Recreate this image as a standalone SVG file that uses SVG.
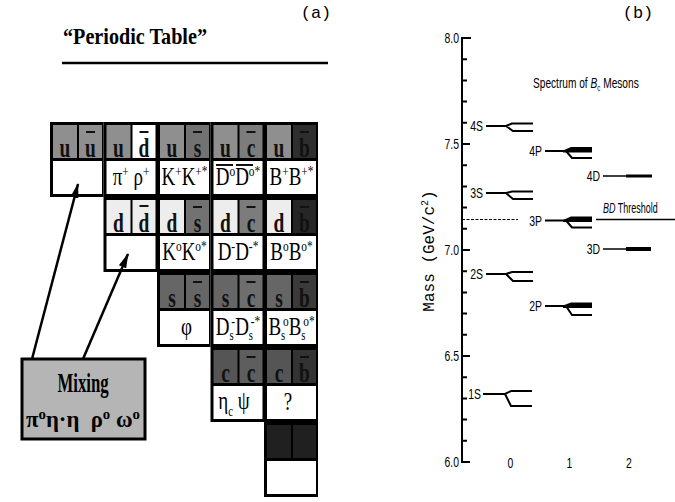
<svg xmlns="http://www.w3.org/2000/svg" width="675" height="502" viewBox="0 0 675 502">
<style>
.bg{fill:#000}
.w{fill:#fff}
.q{font-family:"Liberation Serif",serif;font-size:27px;font-weight:bold;text-anchor:middle;fill:#111}
.m{font-family:"Liberation Serif",serif;font-size:25px;text-anchor:middle;fill:#000}
.sp{font-size:15px}
.sb{font-size:14px}
.bar{stroke:#111;stroke-width:2}
.sans{font-family:"Liberation Sans",sans-serif;font-size:14.5px;fill:#000}
.mono{font-family:"Liberation Mono",monospace;fill:#000}
.lv{fill:none;stroke:#000;stroke-width:2}
.arr{stroke:#000;stroke-width:2.5;fill:none;marker-end:url(#ah)}
</style>
<defs>
<marker id="ah" markerUnits="userSpaceOnUse" markerWidth="15" markerHeight="8" refX="14" refY="4" orient="auto">
<path d="M0,0 L15,4 L0,8 z" fill="#000"/>
</marker>
</defs>
<rect width="675" height="502" fill="#fff"/>

<!-- Panel (a) -->
<text class="mono" font-size="17" x="316" y="18" text-anchor="middle">(a)</text>
<text x="63" y="44" font-family="Liberation Serif,serif" font-weight="bold" font-size="23" textLength="144" lengthAdjust="spacingAndGlyphs">“Periodic Table”</text>
<line x1="62" y1="63" x2="328" y2="63" stroke="#000" stroke-width="2.5"/>

<!-- Row u -->
<g id="uu">
<rect class="bg" x="50" y="122" width="53.5" height="75"/>
<rect x="53" y="125" width="24" height="33" fill="#8f8f8f"/>
<rect x="79" y="125" width="23" height="33" fill="#8f8f8f"/>
<rect class="w" x="53" y="161" width="49" height="33"/>
<text class="q" transform="translate(65,157) scale(0.72,1)">u</text>
<text class="q" transform="translate(90.5,157) scale(0.72,1)">u</text>
<line class="bar" x1="86" y1="132" x2="95" y2="132"/>
</g>
<g id="ud">
<rect class="bg" x="103.5" y="122" width="53.5" height="75"/>
<rect x="106.5" y="125" width="24" height="33" fill="#8f8f8f"/>
<rect x="132.5" y="125" width="23" height="33" fill="#fff"/>
<rect class="w" x="106.5" y="161" width="49" height="33"/>
<text class="q" transform="translate(118.5,157) scale(0.72,1)">u</text>
<text class="q" transform="translate(144,157) scale(0.72,1)">d</text>
<line class="bar" x1="139.5" y1="132" x2="148.5" y2="132"/>
<text class="m" transform="translate(131,185) scale(0.76,1)">π<tspan class="sp" dy="-9">+</tspan><tspan dy="9"> ρ</tspan><tspan class="sp" dy="-9">+</tspan></text>
</g>
<g id="us">
<rect class="bg" x="157" y="122" width="53.5" height="75"/>
<rect x="160" y="125" width="24" height="33" fill="#8f8f8f"/>
<rect x="186" y="125" width="23" height="33" fill="#727272"/>
<rect class="w" x="160" y="161" width="49" height="33"/>
<text class="q" transform="translate(172,157) scale(0.72,1)">u</text>
<text class="q" transform="translate(197.5,157) scale(0.72,1)">s</text>
<line class="bar" x1="193" y1="132" x2="202" y2="132"/>
<text class="m" transform="translate(184.5,185) scale(0.76,1)">K<tspan class="sp" dy="-9">+</tspan><tspan dy="9">K</tspan><tspan class="sp" dy="-9">+*</tspan></text>
</g>
<g id="uc">
<rect class="bg" x="210.5" y="122" width="53.5" height="75"/>
<rect x="213.5" y="125" width="24" height="33" fill="#8f8f8f"/>
<rect x="239.5" y="125" width="23" height="33" fill="#7c7c7c"/>
<rect class="w" x="213.5" y="161" width="49" height="33"/>
<text class="q" transform="translate(225.5,157) scale(0.72,1)">u</text>
<text class="q" transform="translate(251,157) scale(0.72,1)">c</text>
<line class="bar" x1="246.5" y1="132" x2="255.5" y2="132"/>
<text class="m" transform="translate(238,185) scale(0.76,1)">D<tspan class="sp" dy="-9">o</tspan><tspan dy="9">D</tspan><tspan class="sp" dy="-9">o*</tspan></text>
<line class="bar" x1="216" y1="165" x2="233" y2="165"/>
<line class="bar" x1="236" y1="165" x2="253" y2="165"/>
</g>
<g id="ub">
<rect class="bg" x="264" y="122" width="54" height="75"/>
<rect x="267" y="125" width="24" height="33" fill="#8f8f8f"/>
<rect x="293" y="125" width="23" height="33" fill="#2e2e2e"/>
<rect class="w" x="267" y="161" width="49" height="33"/>
<text class="q" transform="translate(279,157) scale(0.72,1)">u</text>
<text class="q" transform="translate(304.5,157) scale(0.72,1)">b</text>
<line class="bar" x1="300" y1="132" x2="309" y2="132"/>
<text class="m" transform="translate(291.5,185) scale(0.76,1)">B<tspan class="sp" dy="-9">+</tspan><tspan dy="9">B</tspan><tspan class="sp" dy="-9">+*</tspan></text>
</g>

<!-- Row d -->
<g id="dd">
<rect class="bg" x="103.5" y="197" width="53.5" height="75"/>
<rect x="106.5" y="200" width="24" height="33" fill="#ededed"/>
<rect x="132.5" y="200" width="23" height="33" fill="#ededed"/>
<rect class="w" x="106.5" y="236" width="49" height="33"/>
<text class="q" transform="translate(118.5,232) scale(0.72,1)">d</text>
<text class="q" transform="translate(144,232) scale(0.72,1)">d</text>
<line class="bar" x1="139.5" y1="206" x2="148.5" y2="206"/>
</g>
<g id="ds">
<rect class="bg" x="157" y="197" width="53.5" height="75"/>
<rect x="160" y="200" width="24" height="33" fill="#ededed"/>
<rect x="186" y="200" width="23" height="33" fill="#727272"/>
<rect class="w" x="160" y="236" width="49" height="33"/>
<text class="q" transform="translate(172,232) scale(0.72,1)">d</text>
<text class="q" transform="translate(197.5,232) scale(0.72,1)">s</text>
<line class="bar" x1="193" y1="207" x2="202" y2="207"/>
<text class="m" transform="translate(184.5,260) scale(0.76,1)">K<tspan class="sp" dy="-9">o</tspan><tspan dy="9">K</tspan><tspan class="sp" dy="-9">o*</tspan></text>
</g>
<g id="dc">
<rect class="bg" x="210.5" y="197" width="53.5" height="75"/>
<rect x="213.5" y="200" width="24" height="33" fill="#ededed"/>
<rect x="239.5" y="200" width="23" height="33" fill="#7c7c7c"/>
<rect class="w" x="213.5" y="236" width="49" height="33"/>
<text class="q" transform="translate(225.5,232) scale(0.72,1)">d</text>
<text class="q" transform="translate(251,232) scale(0.72,1)">c</text>
<line class="bar" x1="246.5" y1="207" x2="255.5" y2="207"/>
<text class="m" transform="translate(238,260) scale(0.76,1)">D<tspan class="sp" dy="-9">-</tspan><tspan dy="9">D</tspan><tspan class="sp" dy="-9">-*</tspan></text>
</g>
<g id="db">
<rect class="bg" x="264" y="197" width="54" height="75"/>
<rect x="267" y="200" width="24" height="33" fill="#ededed"/>
<rect x="293" y="200" width="23" height="33" fill="#262626"/>
<rect class="w" x="267" y="236" width="49" height="33"/>
<text class="q" transform="translate(279,232) scale(0.72,1)">d</text>
<text class="q" transform="translate(304.5,232) scale(0.72,1)">b</text>
<line class="bar" x1="300" y1="207" x2="309" y2="207"/>
<text class="m" transform="translate(291.5,260) scale(0.76,1)">B<tspan class="sp" dy="-9">o</tspan><tspan dy="9">B</tspan><tspan class="sp" dy="-9">o*</tspan></text>
</g>

<!-- Row s -->
<g id="ss">
<rect class="bg" x="157" y="272" width="53.5" height="75"/>
<rect x="160" y="275" width="24" height="33" fill="#666"/>
<rect x="186" y="275" width="23" height="33" fill="#666"/>
<rect class="w" x="160" y="311" width="49" height="33"/>
<text class="q" transform="translate(172,307) scale(0.72,1)">s</text>
<text class="q" transform="translate(197.5,307) scale(0.72,1)">s</text>
<line class="bar" x1="193" y1="282" x2="202" y2="282"/>
<text class="m" transform="translate(186.5,335) scale(0.76,1)">φ</text>
</g>
<g id="sc">
<rect class="bg" x="210.5" y="272" width="53.5" height="75"/>
<rect x="213.5" y="275" width="24" height="33" fill="#666"/>
<rect x="239.5" y="275" width="23" height="33" fill="#6e6e6e"/>
<rect class="w" x="213.5" y="311" width="49" height="33"/>
<text class="q" transform="translate(225.5,307) scale(0.72,1)">s</text>
<text class="q" transform="translate(251,307) scale(0.72,1)">c</text>
<line class="bar" x1="246.5" y1="282" x2="255.5" y2="282"/>
<text class="m" transform="translate(238,335) scale(0.76,1)">D<tspan class="sb" dy="5">s</tspan><tspan class="sp" dy="-14" dx="-3">-</tspan><tspan dy="9">D</tspan><tspan class="sb" dy="5">s</tspan><tspan class="sp" dy="-14" dx="-3">-*</tspan></text>
</g>
<g id="sb">
<rect class="bg" x="264" y="272" width="54" height="75"/>
<rect x="267" y="275" width="24" height="33" fill="#666"/>
<rect x="293" y="275" width="23" height="33" fill="#3a3a3a"/>
<rect class="w" x="267" y="311" width="49" height="33"/>
<text class="q" transform="translate(279,307) scale(0.72,1)">s</text>
<text class="q" transform="translate(304.5,307) scale(0.72,1)">b</text>
<line class="bar" x1="300" y1="282" x2="309" y2="282"/>
<text class="m" transform="translate(291.5,335) scale(0.76,1)">B<tspan class="sb" dy="5">s</tspan><tspan class="sp" dy="-14" dx="-3">o</tspan><tspan dy="9">B</tspan><tspan class="sb" dy="5">s</tspan><tspan class="sp" dy="-14" dx="-3">o*</tspan></text>
</g>

<!-- Row c -->
<g id="cc">
<rect class="bg" x="210.5" y="347" width="53.5" height="75"/>
<rect x="213.5" y="350" width="24" height="33" fill="#555"/>
<rect x="239.5" y="350" width="23" height="33" fill="#5e5e5e"/>
<rect class="w" x="213.5" y="386" width="49" height="33"/>
<text class="q" transform="translate(225.5,382) scale(0.72,1)">c</text>
<text class="q" transform="translate(251,382) scale(0.72,1)">c</text>
<line class="bar" x1="246.5" y1="357" x2="255.5" y2="357"/>
<text class="m" transform="translate(234,409) scale(0.76,1)">η<tspan class="sb" dy="7">c</tspan><tspan dy="-7"> ψ</tspan></text>
</g>
<g id="cb">
<rect class="bg" x="264" y="347" width="54" height="75"/>
<rect x="267" y="350" width="24" height="33" fill="#555"/>
<rect x="293" y="350" width="23" height="33" fill="#333"/>
<rect class="w" x="267" y="386" width="49" height="33"/>
<text class="q" transform="translate(279,382) scale(0.72,1)">c</text>
<text class="q" transform="translate(304.5,382) scale(0.72,1)">b</text>
<line class="bar" x1="300" y1="357" x2="309" y2="357"/>
<text class="m" transform="translate(288,410) scale(0.76,1)">?</text>
</g>

<!-- Row b -->
<g id="bb">
<rect class="bg" x="264" y="422" width="54" height="75"/>
<rect x="267" y="425" width="24" height="33" fill="#202020"/>
<rect x="293" y="425" width="23" height="33" fill="#202020"/>
<rect class="w" x="267" y="461" width="49" height="33"/>
</g>

<!-- Mixing box -->
<g id="mixing">
<rect x="22" y="359" width="123" height="80" fill="#b5b5b5" stroke="#000" stroke-width="3"/>
<text transform="translate(83,392) scale(0.62,1)" font-family="Liberation Serif,serif" font-weight="bold" font-size="27" text-anchor="middle">Mixing</text>
<text x="83" y="427" font-family="Liberation Serif,serif" font-weight="bold" font-size="23" text-anchor="middle" textLength="114" lengthAdjust="spacingAndGlyphs">π<tspan class="sp" dy="-8">o</tspan><tspan dy="8">η·η&#160; ρ</tspan><tspan class="sp" dy="-8">o</tspan><tspan dy="8"> ω</tspan><tspan class="sp" dy="-8">o</tspan></text>
</g>

<g id="connectors">
<line class="arr" x1="32" y1="359" x2="78" y2="184"/>
<line class="arr" x1="83" y1="359" x2="128" y2="254"/>
</g>

<!-- Panel (b) -->
<text class="mono" font-size="17" x="638" y="18" text-anchor="middle">(b)</text>
<line x1="462" y1="37" x2="462" y2="463" stroke="#000" stroke-width="2"/>
<path stroke="#000" stroke-width="2" fill="none" d="M462 38h9 M462 59.2h5 M462 80.4h5 M462 101.6h5 M462 122.8h5 M462 144h8 M462 165.2h5 M462 186.4h5 M462 207.6h5 M462 228.8h5 M462 250h8 M462 271.2h5 M462 292.4h5 M462 313.6h5 M462 334.8h5 M462 356h8 M462 377.2h5 M462 398.4h5 M462 419.6h5 M462 440.8h5 M462 462h8"/>
<g class="sans" text-anchor="end">
<text transform="translate(459,43) scale(0.72,1)">8.0</text>
<text transform="translate(459,149) scale(0.72,1)">7.5</text>
<text transform="translate(459,255) scale(0.72,1)">7.0</text>
<text transform="translate(459,361) scale(0.72,1)">6.5</text>
<text transform="translate(459,467) scale(0.72,1)">6.0</text>
</g>
<text class="mono" font-size="16" transform="translate(434,251) rotate(-90)" text-anchor="middle">Mass (GeV/c<tspan font-size="10" dy="-6">2</tspan><tspan dy="6">)</tspan></text>
<g class="sans" text-anchor="middle">
<text transform="translate(510.5,468) scale(0.72,1)">0</text>
<text transform="translate(569.5,468) scale(0.72,1)">1</text>
<text transform="translate(629,468) scale(0.72,1)">2</text>
</g>
<text class="sans" transform="translate(533,88) scale(0.7,1)">Spectrum of <tspan font-style="italic">B</tspan><tspan font-size="9" dy="3">c</tspan><tspan dy="-3"> Mesons</tspan></text>
<text class="sans" font-size="15" transform="translate(603,213) scale(0.62,1)"><tspan font-style="italic">BD</tspan> Threshold</text>
<line x1="462" y1="219.5" x2="518" y2="219.5" stroke="#000" stroke-width="1.2" stroke-dasharray="3 1.5"/>
<line x1="596" y1="219.5" x2="675" y2="219.5" stroke="#000" stroke-width="1.3"/>

<!-- level labels -->
<g class="sans" text-anchor="end">
<text transform="translate(483,131) scale(0.72,1)">4S</text>
<text transform="translate(483,198) scale(0.72,1)">3S</text>
<text transform="translate(483,279) scale(0.72,1)">2S</text>
<text transform="translate(481,399) scale(0.72,1)">1S</text>
<text transform="translate(542,156) scale(0.72,1)">4P</text>
<text transform="translate(542,225.5) scale(0.72,1)">3P</text>
<text transform="translate(542,311) scale(0.72,1)">2P</text>
<text transform="translate(600,181) scale(0.72,1)">4D</text>
<text transform="translate(600,254) scale(0.72,1)">3D</text>
</g>
<!-- S states -->
<path class="lv" d="M486 126H506L512 123.5H533M506 126L513 131H533"/>
<path class="lv" d="M486 193H506L512 191.5H533M506 193L513 199H533"/>
<path class="lv" d="M486 274H506L512 272H533M506 274L513 281H533"/>
<path class="lv" d="M483 394H505L511 391H532M505 394L511 406H532"/>
<!-- P states -->
<path class="lv" d="M545 151H566M566 151L572 158H592"/>
<polygon points="563,150.5 571,147 592,147 592,152.5 563,152.5"/>
<path class="lv" d="M545 220.5H566M566 220.5L572 227.5H592"/>
<polygon points="563,220 571,216.5 592,216.5 592,222 563,222"/>
<path class="lv" d="M545 306H566M566 306L572 315H592"/>
<polygon points="563,305.5 571,302.5 592,302.5 592,308 563,308"/>
<!-- D states -->
<line x1="603" y1="176" x2="627" y2="176" stroke="#000" stroke-width="1.5"/>
<rect x="626" y="174.5" width="26" height="3"/>
<line x1="603" y1="249" x2="627" y2="249" stroke="#000" stroke-width="1.5"/>
<rect x="626" y="247" width="25" height="4"/>
</svg>
